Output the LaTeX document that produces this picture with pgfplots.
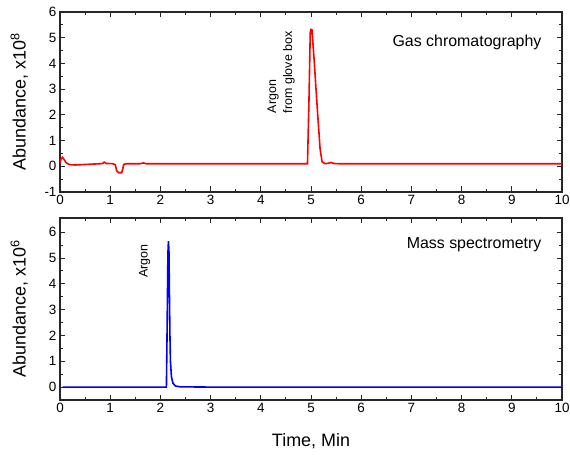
\documentclass[border=0pt]{standalone}
\usepackage{pgfplots}
\pgfplotsset{compat=1.18}
\usepackage{fontspec}
\setmainfont{Liberation Sans}
\begin{document}
\begin{tikzpicture}
\path[use as bounding box] (-60bp,-55bp) rectangle (510bp,400bp);
\pgfplotsset{
  common/.style={
    scale only axis,
    width=502bp,
    xmin=0, xmax=10,
    xtick={0,1,...,10},
    minor x tick num=1,
    minor y tick num=1,
    tick align=inside,
    major tick length=5.5bp,
    minor tick length=3bp,
    axis line style={line width=1.3bp, black!85},
    every tick/.style={line width=1bp, black!85},
    tick label style={font=\fontsize{13.5}{15}\selectfont},
    label style={font=\fontsize{18}{20}\selectfont},
    /pgf/number format/assume math mode=true,
    ylabel style={at={(axis description cs:-0.057,0.5)}, anchor=south},
    clip=true,
  }
}
\begin{axis}[common,
  name=bot,
  at={(0,0)}, anchor=south west,
  height=182bp,
  ymin=-0.5, ymax=6.55,
  ytick={0,1,...,6},
  ylabel={Abundance, x10\textsuperscript{6}},
  xlabel={Time, Min},
  xlabel style={yshift=-14bp},
]
\addplot[blue, line width=1.6bp] coordinates {
(0.05,0) (1.5,0) (2.12,0) (2.135,2.5) (2.15,5.2) (2.16,5.65) (2.17,5.3) (2.18,3.6) (2.19,2.0) (2.2,1.0) (2.22,0.4) (2.25,0.15) (2.3,0.04) (2.4,0.01) (3,0) (10,0)
};
\node[anchor=north west, rotate=90, font=\fontsize{12.5}{14}\selectfont, inner sep=0pt] at (axis cs:1.57,4.22) {Argon};
\node[anchor=east, font=\fontsize{16}{18}\selectfont] at (axis cs:9.66,5.5) {Mass spectrometry};
\end{axis}
\begin{axis}[common,
  name=top,
  at={(0,208bp)}, anchor=south west,
  height=180bp,
  ymin=-1, ymax=6,
  ytick={-1,0,...,6},
  ylabel={Abundance, x10\textsuperscript{8}},
]
\addplot[red, line width=1.6bp] coordinates {
(0,0.12) (0.02,0.28) (0.05,0.35) (0.08,0.27) (0.12,0.14) (0.18,0.07) (0.3,0.05) (0.5,0.07) (0.8,0.1) (0.85,0.11) (0.88,0.16) (0.92,0.11) (1.05,0.1) (1.1,0.06) (1.13,-0.18) (1.17,-0.25) (1.23,-0.25) (1.25,-0.1) (1.27,0.07) (1.32,0.1) (1.6,0.1) (1.66,0.13) (1.72,0.1) (3,0.1) (4.93,0.1) (4.96,2.6) (4.985,5.2) (5.0,5.32) (5.02,5.3) (5.06,4.2) (5.12,2.4) (5.18,0.7) (5.22,0.18) (5.28,0.1) (5.35,0.12) (5.4,0.15) (5.45,0.11) (5.55,0.1) (10,0.1)
};
\node[anchor=north west, rotate=90, align=left, font=\fontsize{12.5}{16}\selectfont, inner sep=0pt] at (axis cs:4.13,2.06) {Argon\\from glove box};
\node[anchor=east, font=\fontsize{16}{18}\selectfont] at (axis cs:9.66,4.82) {Gas chromatography};
\end{axis}
\end{tikzpicture}
\end{document}
